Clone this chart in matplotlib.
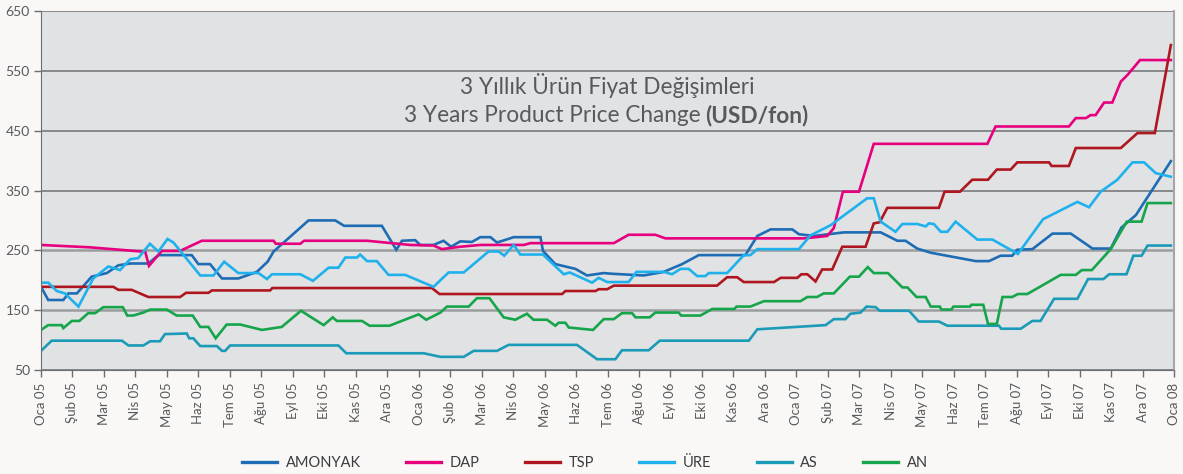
import matplotlib
matplotlib.use('Agg')
import matplotlib.pyplot as plt

# month index (0 = Oca 05 ... 36 = Oca 08) and price in USD/ton
amonyak_m = [0, 0.23, 0.71, 0.87, 1.14, 1.61, 2.09, 2.46, 2.83, 3.41, 3.73, 4.79, 5.00, 5.37, 5.75, 6.27,
             6.86, 7.20, 7.39, 8.50, 9.35, 9.63, 10.83, 11.29, 11.47, 11.89, 12.05, 12.47, 12.79, 13.03,
             13.32, 13.69, 13.96, 14.28, 14.49, 15.02, 15.87, 15.95, 16.34, 16.98, 17.35, 17.88, 18.09,
             19.15, 19.79, 20.37, 20.90, 22.38, 22.76, 23.18, 23.87, 24.08, 24.56, 25.51, 26.68, 27.21,
             27.47, 27.84, 28.27, 29.70, 30.12, 30.49, 30.86, 31.02, 31.50, 32.14, 32.72, 33.41, 33.99,
             34.33, 34.79, 35.90]
amonyak_v = [189, 167, 167, 178, 178, 206, 212, 225, 228, 228, 242, 242, 227, 227, 203, 203,
             214, 231, 248, 300, 300, 291, 291, 251, 266, 267, 259, 259, 266, 256,
             265, 264, 272, 272, 263, 272, 272, 249, 227, 219, 208, 212, 211,
             208, 214, 227, 242, 242, 274, 285, 285, 277, 274, 280, 280, 266,
             266, 253, 246, 232, 232, 241, 241, 251, 252, 278, 278, 253, 253,
             288, 309, 399]

dap_m = [0, 1.56, 3.20, 3.31, 3.43, 3.84, 4.42, 5.11, 7.39, 7.46, 8.24, 8.36, 10.36, 11.73, 12.47,
         12.74, 13.32, 13.96, 15.34, 15.55, 18.20, 18.67, 19.52, 19.84, 24.24, 24.98, 25.19, 25.48,
         25.99, 26.46, 30.07, 30.33, 32.66, 32.88, 33.20, 33.35, 33.51, 33.78, 34.04, 34.31, 34.52,
         34.92, 35.90]
dap_v = [259, 255, 248, 248, 224, 249, 249, 266, 266, 261, 261, 266, 266, 259, 258,
         252, 256, 259, 259, 262, 262, 276, 276, 270, 270, 274, 287, 348,
         348, 428, 428, 457, 457, 471, 471, 476, 476, 497, 497, 532, 543,
         568, 568]

tsp_m = [0, 2.30, 2.46, 2.88, 3.41, 4.42, 4.61, 5.32, 5.43, 7.28, 7.35, 12.42, 12.66, 16.56, 16.66,
         17.62, 17.72, 17.99, 18.20, 21.48, 21.80, 22.12, 22.33, 23.29, 23.50, 24.03, 24.16, 24.35,
         24.61, 24.82, 25.14, 25.46, 26.20, 26.46, 26.65, 26.89, 28.53, 28.71, 29.20, 29.59, 30.09,
         30.37, 30.81, 31.02, 32.03, 32.11, 32.66, 32.88, 34.31, 34.84, 35.39, 35.90]
tsp_v = [189, 189, 184, 184, 172, 172, 179, 179, 183, 183, 187, 187, 177, 177, 182,
         182, 185, 185, 191, 191, 205, 205, 197, 197, 204, 204, 210, 210,
         198, 218, 218, 256, 256, 295, 297, 321, 321, 348, 348, 368, 368,
         385, 385, 397, 397, 391, 391, 421, 421, 446, 446, 593]

ure_m = [0, 0.23, 0.50, 0.76, 1.19, 1.66, 2.14, 2.51, 2.83, 3.09, 3.46, 3.73, 4.02, 4.21, 5.06, 5.48,
         5.82, 6.27, 6.91, 7.18, 7.34, 8.24, 8.64, 9.14, 9.45, 9.67, 10.04, 10.14, 10.36, 10.67, 11.04,
         11.57, 12.47, 12.95, 13.43, 14.22, 14.54, 14.72, 15.02, 15.23, 15.95, 16.61, 16.80, 17.51,
         17.72, 17.99, 18.67, 18.92, 19.79, 20.05, 20.32, 20.58, 20.85, 21.11, 21.22, 21.80, 22.33,
         22.54, 22.76, 24.08, 24.45, 25.09, 26.25, 26.46, 26.68, 27.15, 27.37, 27.84, 28.11, 28.21,
         28.37, 28.59, 28.80, 29.06, 29.75, 30.23, 31.04, 31.84, 32.93, 33.30, 33.67, 34.20, 34.68,
         35.05, 35.42, 35.90]
ure_v = [196, 196, 182, 178, 156, 203, 223, 217, 235, 237, 261, 248, 269, 263, 208, 208,
         231, 212, 212, 202, 210, 210, 199, 221, 221, 238, 238, 243, 232, 232, 209,
         209, 189, 213, 213, 248, 248, 241, 259, 243, 243, 210, 213, 196,
         204, 197, 197, 214, 214, 210, 219, 219, 207, 207, 212, 212, 242,
         242, 252, 252, 275, 292, 337, 337, 298, 281, 294, 294, 290, 295,
         294, 281, 281, 298, 268, 268, 244, 302, 331, 322, 348, 368, 397,
         397, 379, 373]

as_m = [0, 0.34, 2.57, 2.78, 3.25, 3.47, 3.78, 3.94, 4.63, 4.71, 4.84, 5.06, 5.59, 5.75, 5.85, 6.01,
        9.45, 9.70, 12.16, 12.69, 13.43, 13.75, 14.49, 14.86, 17.03, 17.67, 18.25, 18.46, 19.31,
        19.66, 22.49, 22.76, 24.93, 25.19, 25.56, 25.72, 26.04, 26.23, 26.52, 26.65, 27.58, 27.89,
        28.53, 28.80, 30.44, 30.51, 31.13, 31.50, 31.76, 32.19, 32.93, 33.27, 33.76, 33.94, 34.49,
        34.71, 34.97, 35.16, 35.90]
as_v = [82, 99, 99, 91, 91, 98, 98, 110, 111, 103, 103, 90, 90, 82, 82, 91,
        91, 78, 78, 72, 72, 82, 82, 92, 92, 68, 68, 83, 83,
        99, 99, 118, 125, 135, 135, 144, 146, 156, 155, 149, 149, 131,
        131, 124, 124, 119, 119, 132, 132, 169, 169, 202, 202, 210, 210,
        241, 241, 258, 258]

an_m = [0, 0.23, 0.66, 0.71, 0.98, 1.22, 1.50, 1.72, 1.98, 2.60, 2.74, 2.93, 3.25, 3.47, 4.00, 4.31,
        4.82, 5.06, 5.32, 5.55, 5.90, 6.33, 7.02, 7.65, 8.26, 8.98, 9.27, 9.40, 10.20, 10.44, 11.07,
        12.00, 12.24, 12.69, 12.90, 13.59, 13.85, 14.25, 14.70, 15.07, 15.44, 15.65, 16.08, 16.34,
        16.45, 16.66, 16.77, 17.54, 17.88, 18.20, 18.46, 18.78, 18.89, 19.34, 19.52, 20.26, 20.34,
        20.95, 21.33, 22.03, 22.10, 22.54, 22.97, 24.13, 24.35, 24.66, 24.87, 25.19, 25.70, 25.99,
        26.27, 26.46, 26.91, 27.37, 27.53, 27.82, 28.11, 28.27, 28.56, 28.61, 28.93, 28.99, 29.52,
        29.56, 29.94, 30.09, 30.37, 30.55, 30.86, 31.04, 31.34, 32.40, 32.88, 33.07, 33.39, 33.99,
        34.50, 34.97, 35.16, 35.90]
an_v = [117, 125, 125, 120, 132, 132, 145, 145, 155, 155, 141, 141, 146, 151, 151, 141,
        141, 122, 122, 103, 126, 126, 117, 122, 149, 125, 138, 132, 132, 124, 124,
        143, 134, 146, 156, 156, 170, 170, 138, 134, 144, 134, 134, 124,
        129, 129, 121, 117, 135, 135, 145, 145, 138, 138, 146, 146, 141,
        141, 152, 152, 156, 156, 165, 165, 172, 172, 178, 178, 206, 206,
        222, 212, 212, 188, 188, 172, 172, 156, 156, 151, 151, 156, 156,
        159, 159, 127, 127, 172, 172, 177, 177, 209, 209, 217, 217, 252,
        298, 298, 329, 329]

series_names = ['AMONYAK', 'DAP', 'TSP', 'ÜRE', 'AS', 'AN']
series_m = [amonyak_m, dap_m, tsp_m, ure_m, as_m, an_m]
series_v = [amonyak_v, dap_v, tsp_v, ure_v, as_v, an_v]
colors = ['#1e6db4', '#e6007e', '#ae1720', '#1fb1ec', '#1b9bb7', '#16a54b']

month_names = ['Oca', 'Şub', 'Mar', 'Nis', 'May', 'Haz', 'Tem', 'Ağu', 'Eyl', 'Eki', 'Kas', 'Ara']
years = ['05', '06', '07']
tick_labels = [m + ' ' + y for y in years for m in month_names] + ['Oca 08']
y_ticks = [50, 150, 250, 350, 450, 550, 650]

narrow = ['Lato', 'DejaVu Sans']
txt_col = '#58595b'

fig = plt.figure(figsize=(11.83, 4.74), dpi=100)
fig.patch.set_facecolor('#f9f8f6')
ax = fig.add_axes([41/1183, 1-370/474, 1133/1183, 359/474])
ax.set_facecolor('#e1e2e4')

lines = []
for name, mm, vv, c in zip(series_names, series_m, series_v, colors):
    l, = ax.plot(mm, vv, color=c, lw=1.9, label=name, solid_joinstyle='miter')
    lines.append(l)

ax.set_xlim(0, 36)
ax.set_ylim(50, 650)
ax.set_yticks(y_ticks)
ax.set_yticklabels([str(t) for t in y_ticks], family=narrow, fontsize=10, color=txt_col)
ax.set_xticks(range(len(tick_labels)))
ax.set_xticklabels(tick_labels, rotation=90, family=narrow, fontsize=9.5, color=txt_col)
ax.tick_params(axis='both', length=5, color='#6d6e71', width=1)
ax.tick_params(axis='y', pad=3)
ax.tick_params(axis='x', pad=4)
ax.yaxis.grid(True, color='#6f7073', lw=1.1)
# the 150 and 250 lines are lighter and a bit heavier in the original
for t, gl in zip(y_ticks, ax.get_ygridlines()):
    if t in (150, 250):
        gl.set_color('#9c9d9f')
        gl.set_linewidth(1.8)
ax.set_axisbelow(True)
ax.spines['top'].set_visible(False)
ax.spines['left'].set_color('#6d6e71')
ax.spines['bottom'].set_color('#6d6e71')
ax.spines['right'].set_color('#a5a6a8')
ax.spines['right'].set_linewidth(1.5)

title_font = ['Lato', 'DejaVu Sans']
fig.text(607/1183, 1-86/474, '3 Yıllık Ürün Fiyat Değişimleri', ha='center', va='center',
         fontsize=16.3, color=txt_col, family=title_font)
fig.text(701/1183, 1-115/474, '3 Years Product Price Change', ha='right', va='center',
         fontsize=16.3, color=txt_col, family=title_font)
fig.text(705/1183, 1-115/474, '(USD/fon)', ha='left', va='center', fontweight='bold',
         fontsize=16.3, color=txt_col, family=title_font)

fig.legend(handles=lines, loc='center', bbox_to_anchor=(585/1183, 1-463/474), ncol=6,
           frameon=False, handlelength=2.4, handletextpad=0.6, columnspacing=3.1,
           prop={'family': narrow, 'size': 10.5}, labelcolor='#3c3c3e')
for lh in fig.legends[0].get_lines():
    lh.set_linewidth(2.4)

fig.savefig('out.png', dpi=100, facecolor=fig.get_facecolor())
